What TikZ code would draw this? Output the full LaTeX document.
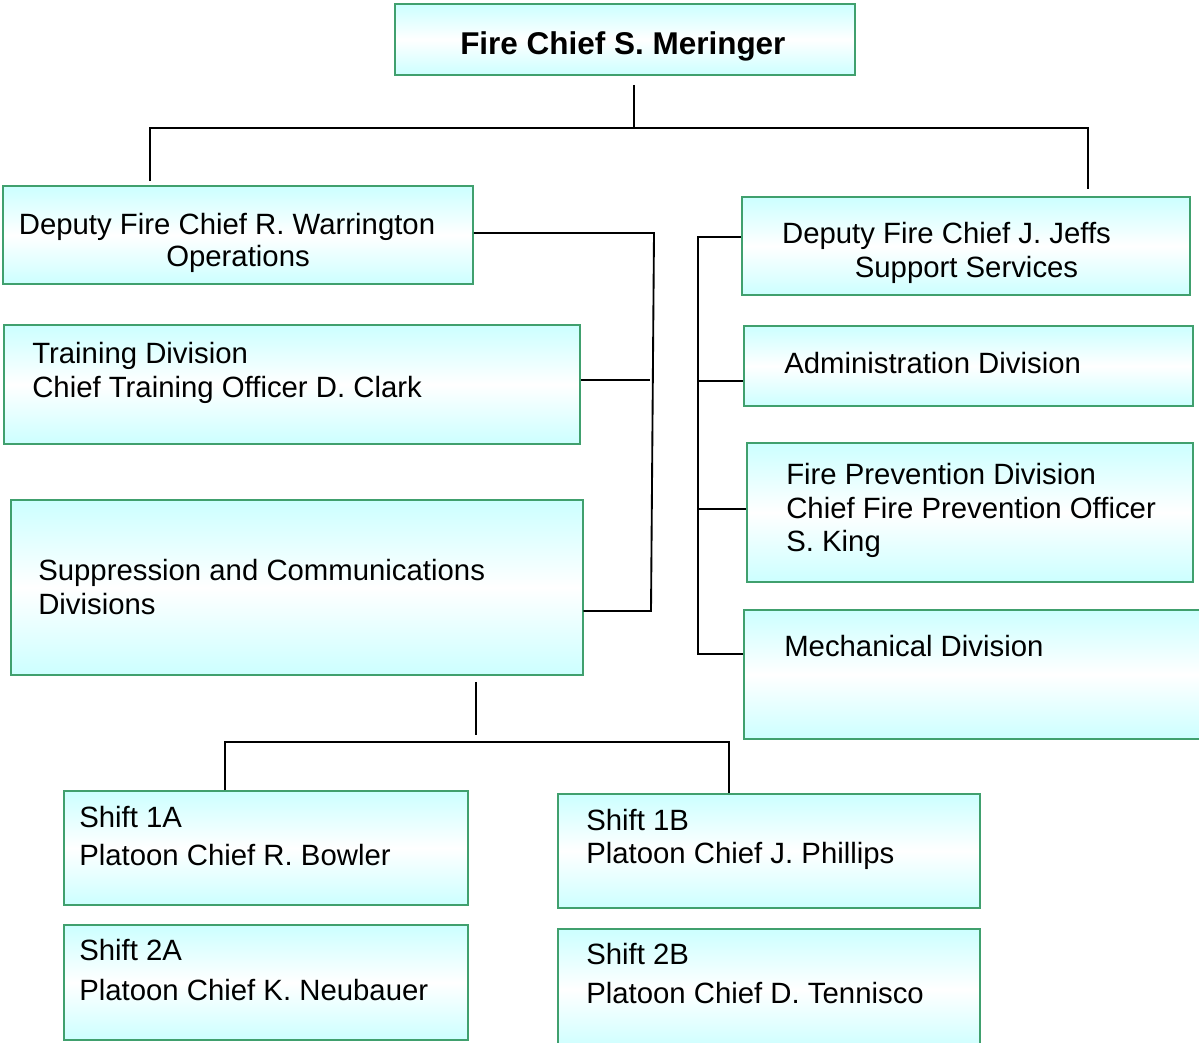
\documentclass[tikz,border=0pt]{standalone}
\usepackage{fontspec}
\setmainfont{Liberation Sans}
\usetikzlibrary{fit}
\definecolor{boxcyan}{RGB}{204,255,255}
\definecolor{boxgreen}{RGB}{64,160,110}
\begin{document}
\begin{tikzpicture}[x=0.75pt,y=-0.75pt,
  box/.style={draw=boxgreen, line width=1.4pt, rectangle, inner sep=0pt,
    top color=boxcyan, bottom color=boxcyan, middle color=white},
  txt/.style={inner sep=0pt, font=\fontsize{22}{26}\selectfont},
  conn/.style={draw=black, line width=1.4pt}]
\useasboundingbox (0,0) rectangle (1199,1042);
\clip (0,0) rectangle (1199,1042);
% boxes
\node[box, fit={(395,4) (855,75)}] (chief) {};
\node[box, fit={(3,186) (473,284)}] (dep1) {};
\node[box, fit={(4,325) (580,444)}] (train) {};
\node[box, fit={(11,500) (583,675)}] (supp) {};
\node[box, fit={(742,197) (1190,295)}] (dep2) {};
\node[box, fit={(744,326) (1193,406)}] (admin) {};
\node[box, fit={(747,443) (1193,582)}] (prev) {};
\node[box, fit={(744,610) (1215,739)}] (mech) {};
\node[box, fit={(64,791) (468,905)}] (s1a) {};
\node[box, fit={(558,794) (980,908)}] (s1b) {};
\node[box, fit={(64,925) (468,1040)}] (s2a) {};
\node[box, fit={(558,929) (980,1050)}] (s2b) {};
% texts
\node[txt, anchor=base west, font=\fontsize{23.6}{28}\selectfont\bfseries] (chiefT) at (460,54) {Fire Chief S. Meringer};
\node[txt, anchor=base] (dep1a) at (227,234) {Deputy Fire Chief R. Warrington};
\node[txt, anchor=base] (dep1b) at (238,266) {Operations};
\node[txt, anchor=base west] (tr1) at (32,363) {Training Division};
\node[txt, anchor=base west] (tr2) at (32,397) {Chief Training Officer D. Clark};
\node[txt, anchor=base west] (su1) at (38,580) {Suppression and Communications};
\node[txt, anchor=base west] (su2) at (38,614) {Divisions};
\node[txt, anchor=base] (dep2a) at (946.5,243) {Deputy Fire Chief J. Jeffs};
\node[txt, anchor=base] (dep2b) at (966.5,277) {Support Services};
\node[txt, anchor=base west] (ad1) at (784,373) {Administration Division};
\node[txt, anchor=base west] (pr1) at (786,484) {Fire Prevention Division};
\node[txt, anchor=base west] (pr2) at (786,518) {Chief Fire Prevention Officer};
\node[txt, anchor=base west] (pr3) at (786,551) {S. King};
\node[txt, anchor=base west] (me1) at (784,656) {Mechanical Division};
\node[txt, anchor=base west] (a1) at (79,827) {Shift 1A};
\node[txt, anchor=base west] (a2) at (79,865) {Platoon Chief R. Bowler};
\node[txt, anchor=base west] (b1) at (586,830) {Shift 1B};
\node[txt, anchor=base west] (b2) at (586,863) {Platoon Chief J. Phillips};
\node[txt, anchor=base west] (c1) at (79,960) {Shift 2A};
\node[txt, anchor=base west] (c2) at (79,1000) {Platoon Chief K. Neubauer};
\node[txt, anchor=base west] (d1) at (586,964) {Shift 2B};
\node[txt, anchor=base west] (d2) at (586,1003) {Platoon Chief D. Tennisco};
% junction coordinates
\coordinate (hb) at (634,128);
\coordinate (hbL) at (150,128);
\coordinate (hbR) at (1088,128);
\coordinate (lbT) at (654,233);
\coordinate (lbM) at (650,380);
\coordinate (lbB) at (651,611);
\coordinate (rb1) at (698,237);
\coordinate (rb2) at (698,381);
\coordinate (rb3) at (698,509);
\coordinate (rb4) at (698,654);
\coordinate (sd) at (476,735);
\coordinate (bbL) at (225,742);
\coordinate (bbR) at (729,742);
% connectors
\draw[conn, shorten <=6.75pt] (hb |- chief.south) -- (hb);
\draw[conn, shorten <=3pt, shorten >=5.25pt] (hbL |- dep1.north) -- (hbL) -- (hbR) -- (hbR |- dep2.north);
\draw[conn, shorten >=-0.5pt] (lbT -| dep1.east) -- (lbT) -- (lbB) -- (lbB -| supp.east);
\draw[conn] (lbM -| train.east) -- (lbM);
\draw[conn] (rb1 -| dep2.west) -- (rb1) -- (rb4) -- (rb4 -| mech.west);
\draw[conn] (rb2) -- (rb2 -| admin.west);
\draw[conn] (rb3) -- (rb3 -| prev.west);
\draw[conn, shorten <=4.5pt] (sd |- supp.south) -- (sd);
\draw[conn] (bbL |- s1a.north) -- (bbL) -- (bbR) -- (bbR |- s1b.north);
\end{tikzpicture}
\end{document}
